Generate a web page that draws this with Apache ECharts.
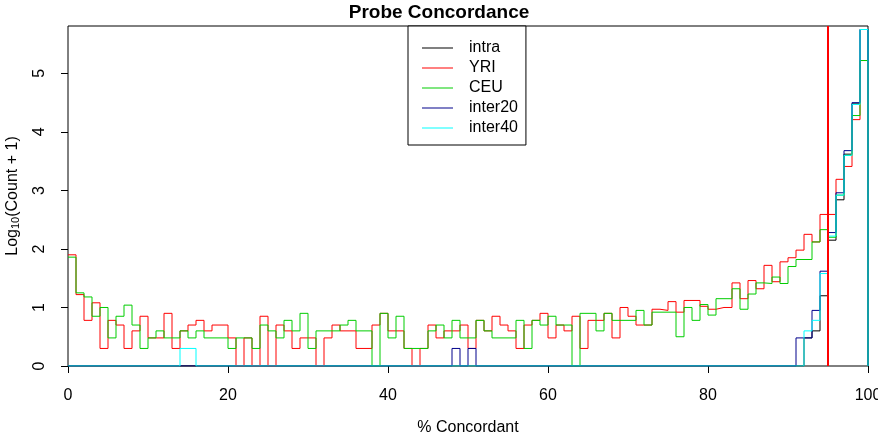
<!DOCTYPE html>
<html>
<head>
<meta charset="utf-8">
<script src="https://cdn.jsdelivr.net/npm/echarts@6/dist/echarts.min.js"></script>
<style>
  html, body { margin: 0; padding: 0; background: #fff; }
  #chart { width: 878px; height: 436px; }
</style>
</head>
<body>
<div id="chart"></div>
<script>
// log10(count + 1) per 1% bin, bins 0..99
const yri = [
  1.9, 1.22, 0.78, 1.08, 0.3, 0.78, 0.7, 0.3, 0.6, 0.85,
  0.48, 0.48, 0.9, 0.3, 0.6, 0.7, 0.78, 0.6, 0.7, 0.7,
  0.48, 0, 0.48, 0, 0.85, 0, 0.7, 0.6, 0.3, 0.48,
  0.48, 0, 0.48, 0.7, 0.6, 0.6, 0.3, 0.3, 0.7, 0.9,
  0.6, 0.6, 0.3, 0, 0.3, 0.7, 0.48, 0.6, 0.6, 0.7,
  0.3, 0.78, 0.6, 0.85, 0.7, 0.6, 0.3, 0.7, 0.78, 0.9,
  0.48, 0.7, 0.6, 0.85, 0.3, 0.78, 0.78, 0.9, 0.48, 1.0,
  0.85, 0.7, 0.7, 0.97, 0.95, 1.1, 0.92, 1.12, 1.12, 1.02,
  0.97, 1.0, 1.0, 1.42, 1.15, 1.46, 1.32, 1.72, 1.44, 1.78,
  1.85, 1.98, 2.25, 2.12, 2.59, 2.59, 3.19, 3.41, 4.21, 5.22
];
const ceu = [
  1.86, 1.25, 1.18, 0.85, 1.0, 0.48, 0.85, 1.04, 0.7, 0.3,
  0.48, 0.6, 0.48, 0.48, 0.6, 0.48, 0.6, 0.48, 0.48, 0.48,
  0.3, 0.48, 0.48, 0.3, 0.7, 0.6, 0.48, 0.78, 0.6, 0.9,
  0.3, 0.6, 0.6, 0.6, 0.7, 0.78, 0.6, 0.6, 0, 0.9,
  0.48, 0.85, 0.3, 0.3, 0.3, 0.6, 0.7, 0.48, 0.78, 0.48,
  0.48, 0.78, 0.6, 0.48, 0.48, 0.48, 0.78, 0.3, 0.78, 0.7,
  0.85, 0.7, 0.7, 0, 0.9, 0.9, 0.6, 0.9, 0.78, 0.78,
  0.78, 0.95, 0.7, 0.92, 0.92, 0.92, 0.5, 1.0, 0.78, 1.05,
  0.87, 1.15, 1.15, 1.32, 0.97, 1.23, 1.42, 1.41, 1.52, 1.41,
  1.7, 1.82, 1.82, 2.12, 2.33, 2.2, 2.92, 3.6, 4.28, 5.22
];
// the other three are empty below 90% except a few bins
const intraTail = [0, 0.48, 0.6, 1.2, 2.15, 2.84, 3.62, 4.48, 5.75];    // bins 91..99
const inter20Tail = [0.48, 0.48, 0.95, 1.62, 2.28, 2.96, 3.68, 4.5, 5.75];
const inter40Tail = [0, 0.6, 0.78, 1.58, 2.22, 2.92, 3.6, 4.47, 5.75];
const inter20Low = { 48: 0.3, 50: 0.3 };
const inter40Low = { 14: 0.3, 15: 0.3 };
const cutoff = 95;

function full(tail, low) {
  const out = [];
  for (let i = 0; i < 100; i++) {
    if (i >= 91) out.push(tail[i - 91]);
    else out.push(low[i] || 0);
  }
  return out;
}

function steps(vals) {
  const pts = vals.map((v, i) => [i, v]);
  pts.push([100, vals[99]]);
  pts.push([100, 0]);
  return pts;
}

const seriesDefs = [
  { name: 'intra', color: '#000000', vals: full(intraTail, {}) },
  { name: 'YRI', color: '#FF0000', vals: yri },
  { name: 'CEU', color: '#00CD00', vals: ceu },
  { name: 'inter20', color: '#00008B', vals: full(inter20Tail, inter20Low) },
  { name: 'inter40', color: '#00FFFF', vals: full(inter40Tail, inter40Low) }
];

const chart = echarts.init(document.getElementById('chart'));
const font = 'Liberation Sans, Arial, sans-serif';

const series = seriesDefs.map(s => ({
  name: s.name,
  type: 'line',
  step: 'end',
  symbol: 'none',
  color: s.color,
  lineStyle: { color: s.color, width: 1 },
  data: steps(s.vals)
}));

series.push({
  name: 'cutoff',
  type: 'line',
  symbol: 'none',
  lineStyle: { color: '#FF0000', width: 2 },
  data: [[cutoff, 0], [cutoff, 5.81]]
});

chart.setOption({
  animation: false,
  title: {
    text: 'Probe Concordance',
    left: 'center',
    top: -2,
    textStyle: { fontFamily: font, fontSize: 19, fontWeight: 'bold', color: '#000' }
  },
  legend: {
    data: ['intra', 'YRI', 'CEU', 'inter20', 'inter40'],
    orient: 'vertical',
    left: 408,
    top: 26,
    icon: 'rect',
    itemWidth: 31,
    itemHeight: 1,
    itemGap: 4,
    padding: [14, 8, 9, 14],
    borderColor: '#000',
    borderWidth: 1,
    backgroundColor: '#fff',
    textStyle: { fontFamily: font, fontSize: 16, color: '#000', lineHeight: 16, padding: [0, 0, 0, 11] }
  },
  grid: {
    left: 68, right: 10, top: 26, bottom: 70,
    outerBoundsMode: 'none',
    containLabel: false,
    show: true, borderColor: '#000', borderWidth: 1, backgroundColor: 'transparent'
  },
  xAxis: {
    type: 'value',
    min: 0, max: 100, interval: 20,
    name: '% Concordant',
    nameLocation: 'middle',
    nameGap: 54,
    nameTextStyle: { fontFamily: font, fontSize: 16, color: '#000' },
    axisLine: { show: false },
    axisTick: { show: true, inside: false, length: 7, lineStyle: { color: '#000' } },
    axisLabel: { fontFamily: font, fontSize: 16, color: '#000', margin: 22 },
    splitLine: { show: false }
  },
  yAxis: {
    type: 'value',
    min: 0, max: 5.81, interval: 1,
    name: 'Log{sub|10}(Count + 1)',
    nameLocation: 'middle',
    nameRotate: 90,
    nameGap: 47,
    nameTextStyle: {
      fontFamily: font, fontSize: 16, color: '#000',
      rich: { sub: { fontFamily: font, fontSize: 11, verticalAlign: 'bottom', padding: [6, 0, 0, 0] } }
    },
    axisLine: { show: false },
    axisTick: { show: true, inside: false, length: 7, lineStyle: { color: '#000' } },
    axisLabel: {
      fontFamily: font, fontSize: 16, color: '#000', rotate: 90, margin: 20,
      showMaxLabel: false,
      formatter: v => (Number.isInteger(v) ? String(v) : '')
    },
    splitLine: { show: false }
  },
  series: series
});
</script>
</body>
</html>
